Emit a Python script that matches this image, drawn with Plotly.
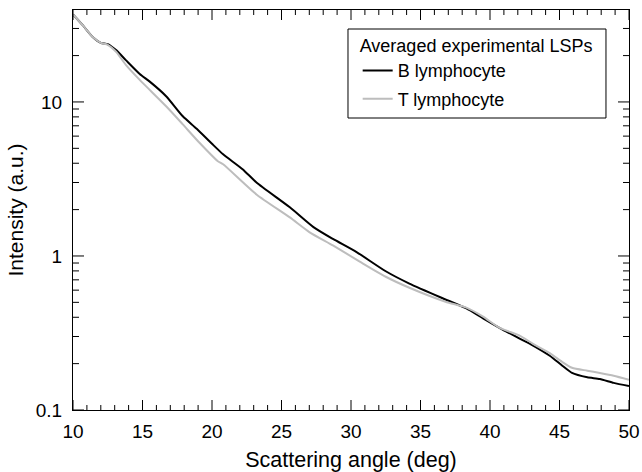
import plotly.graph_objects as go

# Data
angle_b = [10, 10.7, 11.4, 12, 12.5, 13.1, 13.8, 14.8, 15.5, 16.7, 17.9, 18.9, 20, 20.8,
           22.2, 23.2, 25.6, 27.3, 28.7, 30.4, 32.5, 34.2, 36.8, 38.3, 39.5, 40.9, 42.1,
           43.1, 44.3, 45.2, 45.9, 47, 47.9, 48.9, 50]
b_lymph = [37, 31.5, 26.5, 24.2, 23.7, 21.7, 18.7, 15.2, 13.6, 10.9, 8.07, 6.7, 5.35, 4.57,
           3.66, 3.0, 2.07, 1.54, 1.29, 1.06, 0.796, 0.662, 0.522, 0.457, 0.394, 0.333, 0.292,
           0.262, 0.225, 0.194, 0.174, 0.163, 0.159, 0.150, 0.143]

angle_t = [10, 10.7, 11.4, 12, 12.5, 13.1, 13.8, 14.8, 16.7, 17.9, 19.1, 20.4, 20.8, 23.2,
           25.6, 27, 28.7, 30.6, 32.5, 34.2, 36.8, 38.3, 39.5, 40.7, 42.1, 43.1, 44.3, 45.2,
           45.9, 47, 47.9, 48.9, 50]
t_lymph = [37, 31.5, 26.5, 24.2, 23.5, 21.2, 17.4, 13.9, 9.37, 7.15, 5.43, 4.14, 3.94, 2.51,
           1.78, 1.43, 1.17, 0.923, 0.733, 0.622, 0.505, 0.462, 0.404, 0.341, 0.305, 0.269,
           0.234, 0.205, 0.188, 0.180, 0.174, 0.167, 0.157]

x_major = [10, 15, 20, 25, 30, 35, 40, 45, 50]
x_minor = [v for v in range(10, 51) if v not in x_major]
y_major = [0.1, 1, 10]
y_minor = [0.2, 0.3, 0.4, 0.5, 0.6, 0.7, 0.8, 0.9, 2, 3, 4, 5, 6, 7, 8, 9, 20, 30]

FONT = "Liberation Sans, Arial, Helvetica, sans-serif"
W, H = 642, 472
M = dict(l=73, r=13, t=10, b=62)
PW = W - M["l"] - M["r"]
PH = H - M["t"] - M["b"]

fig = go.Figure()
fig.add_trace(go.Scatter(x=angle_b, y=b_lymph, mode="lines", name="B lymphocyte",
                         legendgroup="b",
                         line=dict(color="black", width=2, shape="spline", smoothing=0.6)))
fig.add_trace(go.Scatter(x=angle_t, y=t_lymph, mode="lines", name="T lymphocyte",
                         legendgroup="t",
                         line=dict(color="#bdbdbd", width=2, shape="spline", smoothing=0.6)))

# Inward tick marks on all four sides, placed on the axes' own data coordinates
tick_line = dict(color="black", width=1)
shapes = []
for v in x_major + x_minor:
    L = (10 if v in x_major else 5) / PH
    shapes.append(dict(type="line", xref="x", yref="y domain", x0=v, x1=v, y0=0, y1=L, line=tick_line))
    shapes.append(dict(type="line", xref="x", yref="y domain", x0=v, x1=v, y0=1, y1=1 - L, line=tick_line))
for v in y_major + y_minor:
    L = (11 if v in y_major else 6) / PW
    shapes.append(dict(type="line", xref="x domain", yref="y", x0=0, x1=L, y0=v, y1=v, line=tick_line))
    shapes.append(dict(type="line", xref="x domain", yref="y", x0=1, x1=1 - L, y0=v, y1=v, line=tick_line))

# Legend frame
shapes.append(dict(type="rect", xref="paper", yref="paper",
                   x0=0.4946, x1=0.9586, y0=0.73, y1=0.9525,
                   line=dict(color="black", width=1), fillcolor="rgba(0,0,0,0)", layer="above"))

fig.update_layout(
    template="none",
    width=W, height=H,
    margin=M,
    paper_bgcolor="white", plot_bgcolor="white",
    font=dict(family=FONT, color="black", size=19),
    showlegend=True,
    legend=dict(
        title=dict(text="Averaged experimental LSPs", font=dict(size=18)),
        font=dict(size=18),
        x=0.512, y=0.953, xanchor="left", yanchor="top",
        borderwidth=0, bgcolor="rgba(0,0,0,0)",
        traceorder="grouped", tracegroupgap=2,
    ),
    shapes=shapes,
)

fig.update_xaxes(
    range=[x_major[0], x_major[-1]], showgrid=False, zeroline=False,
    showline=True, linecolor="black", linewidth=1, mirror=True,
    ticks="", tickmode="array", tickvals=x_major,
    tickfont=dict(size=19), ticklabelstandoff=4,
    title=dict(text="Scattering angle (deg)", font=dict(size=21.5), standoff=12),
)
fig.update_yaxes(
    type="log", range=[-1, 1.597], showgrid=False, zeroline=False,
    showline=True, linecolor="black", linewidth=1, mirror=True,
    ticks="", tickmode="array", tickvals=y_major, ticktext=["0.1", "1", "10"],
    tickfont=dict(size=19), ticklabelstandoff=6,
    title=dict(text="Intensity (a.u.)", font=dict(size=21), standoff=6),
)

fig.write_html("out.html")
